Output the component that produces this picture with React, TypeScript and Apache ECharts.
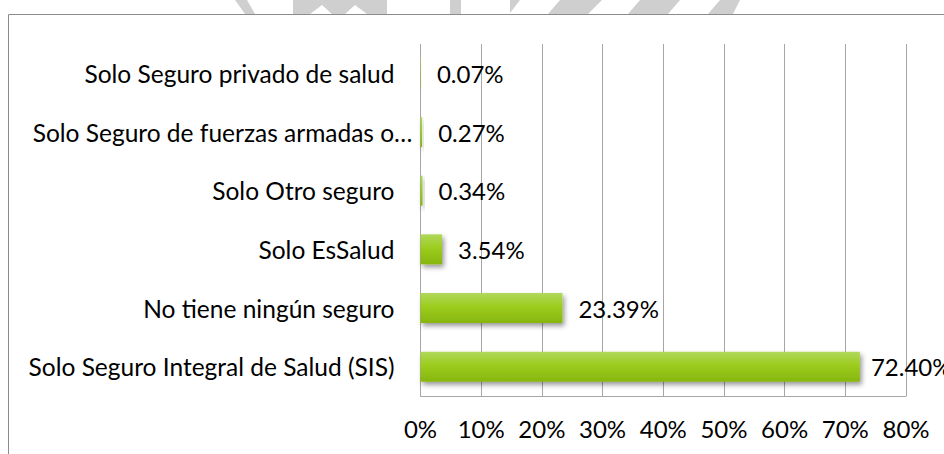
import React, { useEffect, useRef } from "react";
import * as echarts from "echarts";

const categories = [
  "Solo Seguro Integral de Salud (SIS)",
  "No tiene ningún seguro",
  "Solo EsSalud",
  "Solo Otro seguro",
  "Solo Seguro de fuerzas armadas o…",
  "Solo Seguro privado de salud",
];
const values = [72.4, 23.39, 3.54, 0.34, 0.27, 0.07];
const longLabel = "Solo Seguro de fuerzas armadas o…";

const FONT = "Lato";

export default function App() {
  const ref = useRef<HTMLDivElement>(null);
  useEffect(() => {
    if (!ref.current) return;
    const chart = echarts.init(ref.current, undefined, { renderer: "svg" });
    const wm = "#cfcfcf";
    const option = {
      animation: false,
      backgroundColor: "#ffffff",
      textStyle: { fontFamily: FONT },
      grid: { left: 420.5, right: 38, top: 44, bottom: 58, containLabel: false },
      xAxis: {
        type: "value",
        min: 0,
        max: 80,
        interval: 10,
        axisLine: { show: true, lineStyle: { color: "#a6a6a6", width: 1 } },
        axisTick: { show: false },
        splitLine: { show: true, lineStyle: { color: "#a6a6a6", width: 1 } },
        axisLabel: {
          formatter: "{value}%",
          color: "#000",
          fontFamily: FONT,
          fontSize: 24,
          margin: 20,
        },
      },
      yAxis: [
        {
          type: "category",
          data: categories,
          axisLine: { show: false },
          axisTick: { show: false },
          splitLine: { show: false },
          axisLabel: {
            color: "#000",
            fontFamily: FONT,
            fontSize: 24.5,
            margin: 26,
            formatter: (v: string) => (v === longLabel ? "" : v),
          },
        },
        {
          type: "category",
          position: "left",
          data: categories,
          axisLine: { show: false },
          axisTick: { show: false },
          splitLine: { show: false },
          axisLabel: {
            color: "#000",
            fontFamily: FONT,
            fontSize: 24.5,
            margin: 8,
            formatter: (v: string) => (v === longLabel ? v : ""),
          },
        },
      ],
      series: [
        {
          type: "bar",
          yAxisIndex: 0,
          barWidth: 30,
          data: values.map((v, i) => (i === 0 ? { value: v, label: { distance: 11 } } : v)),
          itemStyle: {
            color: new echarts.graphic.LinearGradient(0, 0, 0, 1, [
              { offset: 0, color: "#b0d85c" },
              { offset: 0.45, color: "#9dcc1e" },
              { offset: 1, color: "#86b60e" },
            ]),
            shadowColor: "rgba(0,0,0,0.4)",
            shadowBlur: 5,
            shadowOffsetX: 2,
            shadowOffsetY: 3,
          },
          label: {
            show: true,
            position: "right",
            distance: 16,
            color: "#000",
            fontFamily: FONT,
            fontSize: 24,
            formatter: (p: any) => p.value.toFixed(2) + "%",
          },
        },
      ],
      graphic: [
        { type: "polygon", silent: true, shape: { points: [[235, 0], [247, 0], [255, 14], [245, 14]] }, style: { fill: wm } },
        {
          type: "polygon",
          silent: true,
          shape: {
            points: [
              [293, 0], [387, 0], [387, 14], [367, 14], [355, 5], [345, 14], [332, 14], [322, 5], [310, 14], [293, 14],
            ],
          },
          style: { fill: wm },
        },
        { type: "rect", silent: true, shape: { x: 450, y: 0, width: 11, height: 14 }, style: { fill: wm } },
        { type: "polygon", silent: true, shape: { points: [[510, 0], [520, 0], [510, 13]] }, style: { fill: wm } },
        { type: "polygon", silent: true, shape: { points: [[560, 0], [602, 0], [588, 14], [548, 14]] }, style: { fill: wm } },
        { type: "polygon", silent: true, shape: { points: [[640, 0], [680, 0], [668, 14], [628, 14]] }, style: { fill: wm } },
        { type: "polygon", silent: true, shape: { points: [[720, 0], [740, 0], [733, 14], [708, 14]] }, style: { fill: wm } },
        {
          type: "rect",
          silent: true,
          shape: { x: 8.5, y: 14.5, width: 1000, height: 1000 },
          style: { fill: "none", stroke: "#8c8c8c", lineWidth: 1 },
        },
      ],
    };
    chart.setOption(option as any);
    return () => chart.dispose();
  }, []);
  return (
    <div
      ref={ref}
      style={{ position: "absolute", left: 0, top: 0, width: 944, height: 454 }}
    />
  );
}
